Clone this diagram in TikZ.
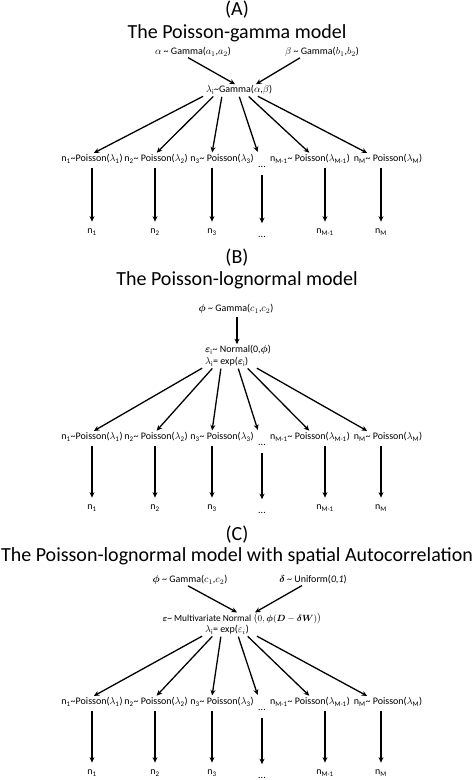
\documentclass[tikz,border=0pt]{standalone}
\usepackage{amsmath}
\usepackage{fontspec}
\setmainfont{Carlito}
\usepackage{tikz}
\usetikzlibrary{
    arrows.meta,
    positioning,
    calc
}
\newcommand{\Tld}{\textasciitilde}
\newcommand{\lsub}[1]{\textsubscript{#1}}
\tikzstyle{arrow} = [
    -{Stealth[length=5.5pt,width=5pt]},
    line width=1.3pt
]
\tikzstyle{heading} = [
    font=\fontsize{20}{24}\selectfont,
    inner sep=0pt
]
\tikzstyle{dist} = [
    font=\fontsize{10}{12}\selectfont,
    inner sep=1pt
]

\begin{document}
\begin{tikzpicture}[
    x=1pt, y=-1pt,
    vert/.style={arrow, shorten <=3pt, shorten >=6pt}
]
    \useasboundingbox (0,0) rectangle (474,780);

    % (A) Poisson-gamma
    \node[heading] (tagA) at (237,10) {(A)};
    \node[heading] (titleA) at (237,33) {The Poisson-gamma model};
    \node[dist] (alphaA) at (193,52) {$\alpha$ \Tld{} Gamma($a_1$,$a_2$)};
    \node[dist] (betaA) at (322,52) {$\beta$ \Tld{} Gamma($b_1$,$b_2$)};
    \node[dist, anchor=west] (lamA) at (205,90) {$\lambda$\lsub{i}\Tld Gamma($\alpha$,$\beta$)};
    \draw[arrow] ([xshift=-5pt]alphaA.south) -- ([xshift=30pt]lamA.north west);
    \draw[arrow] ([xshift=-22pt]betaA.south) -- ([xshift=51pt]lamA.north west);

    % (B) Poisson-lognormal
    \node[heading] (tagB) at (237,258) {(B)};
    \node[heading] (titleB) at (237,280) {The Poisson-lognormal model};
    \node[dist] (phiB) at (236,309) {$\boldsymbol{\phi}$ \Tld{} Gamma($c_1$,$c_2$)};
    \node[dist, anchor=west] (epsB) at (204,350) {$\boldsymbol{\varepsilon}$\lsub{i}\Tld{} Normal(0,$\boldsymbol{\phi}$)};
    \node[dist, anchor=west] (lamB) at (204,362) {$\lambda$\lsub{i}= exp($\boldsymbol{\varepsilon}$\lsub{i})};
    \draw[arrow, shorten <=2pt] ([xshift=1pt]phiB.south) -- ([xshift=33pt]epsB.north west);

    % (C) with spatial autocorrelation
    \node[heading] (tagC) at (237,535) {(C)};
    \node[heading] (titleC) at (237,556) {The Poisson-lognormal model with spatial Autocorrelation};
    \node[dist] (phiC) at (190,580) {$\boldsymbol{\phi}$ \Tld{} Gamma($c_1$,$c_2$)};
    \node[dist] (deltaC) at (313,580) {$\boldsymbol{\delta}$ \Tld{} Uniform(\textit{0,1})};
    \node[dist, font=\fontsize{9.4}{11}\selectfont] (epsC) at (242,619) {$\boldsymbol{\varepsilon}$\Tld{} Multivariate Normal $\bigl(0,\boldsymbol{\phi}(\boldsymbol{D}-\boldsymbol{\delta}\boldsymbol{W})\bigr)$};
    \node[dist, anchor=west] (lamC) at (204,630) {$\lambda$\lsub{i}= exp($\varepsilon_i$)};
    \draw[arrow] ([xshift=-2pt]phiC.south) -- ([xshift=-5pt]epsC.north);
    \draw[arrow] ([xshift=-11pt]deltaC.south) -- ([xshift=13pt]epsC.north);

    % Poisson counts and observations
    \foreach \s/\py/\ny in {A/159/232, B/437/508, C/702/773} {
        \node[dist] (p\s1) at (92,\py) {n\lsub{1}\Tld Poisson($\lambda$\lsub{1})};
        \node[dist] (p\s2) at (156,\py) {n\lsub{2}\Tld{} Poisson($\lambda$\lsub{2})};
        \node[dist] (p\s3) at (222,\py) {n\lsub{3}\Tld{} Poisson($\lambda$\lsub{3})};
        \node[dist] (p\s4) at (262,\py+8) {...};
        \node[dist] (p\s5) at (310,\py) {n\lsub{M-1}\Tld{} Poisson($\lambda$\lsub{M-1})};
        \node[dist] (p\s6) at (388,\py) {n\lsub{M}\Tld{} Poisson($\lambda$\lsub{M})};

        \node[dist] (n\s1) at (92,\ny) {n\lsub{1}};
        \node[dist] (n\s2) at (155,\ny) {n\lsub{2}};
        \node[dist] (n\s3) at (212,\ny) {n\lsub{3}};
        \node[dist] (n\s4) at (262,\ny+5) {...};
        \node[dist] (n\s5) at (325,\ny) {n\lsub{M-1}};
        \node[dist] (n\s6) at (381,\ny) {n\lsub{M}};

        \foreach \i/\dx/\ex/\sh in {1/-1/1/1, 2/9/0/1, 3/17/-10/1, 4/34/0/14, 5/43/0/1, 6/52/-20/1}
            \draw[arrow, shorten <=1pt, shorten >=\sh pt] ([xshift=\dx pt]lam\s.south west) -- ([xshift=\ex pt]p\s\i.north);
        \foreach \i in {1,2,3,5,6}
            \draw[vert] (p\s\i.south -| n\s\i.north) -- (n\s\i.north);
        \draw[vert, shorten <=6pt, shorten >=12pt] (p\s4) -- (n\s4);
    }
\end{tikzpicture}
\end{document}
